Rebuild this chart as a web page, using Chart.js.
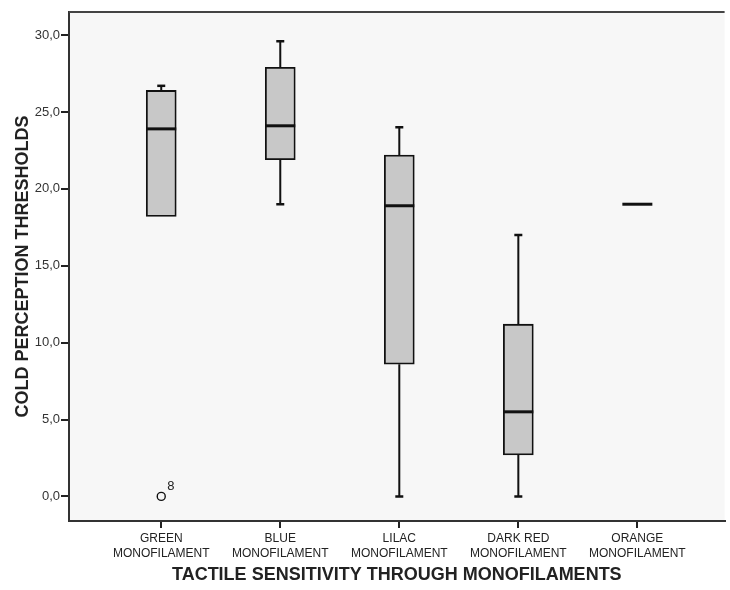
<!DOCTYPE html>
<html>
<head>
<meta charset="utf-8">
<script src="https://cdn.jsdelivr.net/npm/chart.js@4.4.1/dist/chart.umd.min.js"></script>
<style>
  html, body { margin: 0; padding: 0; background: #fff; }
  #wrap { width: 730px; height: 590px; }
</style>
</head>
<body>
<div id="wrap"><canvas id="chart"></canvas></div>
<script>
// categories and box plot values
const groups = [['GREEN', 'MONOFILAMENT'], ['BLUE', 'MONOFILAMENT'], ['LILAC', 'MONOFILAMENT'], ['DARK RED', 'MONOFILAMENT'], ['ORANGE', 'MONOFILAMENT']];
const groupPos = [1, 2, 3, 4, 5];
const whiskerLow = [18.2, 19.0, 0.0, 0.0, 19.0];
const q1 = [18.2, 21.9, 8.6, 2.7, 19.0];
const median = [23.9, 24.1, 18.9, 5.5, 19.0];
const q3 = [26.4, 27.9, 22.2, 11.2, 19.0];
const whiskerHigh = [26.7, 29.6, 24.0, 17.0, 19.0];
const outlierPos = [1];
const outlierVal = [0.0];
const outlierLabel = ['8'];
const yTicks = [0, 5, 10, 15, 20, 25, 30];

const font = "'Liberation Sans', Arial, sans-serif";

const boxData = groupPos.map((x, i) => q1[i] === q3[i] ? { x: x, y: null } : { x: x, y: [q1[i], q3[i]] });
const outData = outlierPos.map((x, i) => ({ x: x, y: outlierVal[i] }));

const boxPlot = {
  id: 'boxPlot',
  beforeDraw(chart) {
    const a = chart.chartArea, c = chart.ctx;
    c.save();
    c.fillStyle = '#f7f7f7';
    c.fillRect(a.left, a.top, a.right - a.left, a.bottom - a.top);
    c.restore();
  },
  afterDatasetsDraw(chart) {
    const c = chart.ctx, xs = chart.scales.x, ys = chart.scales.y;
    const half = 15, cap = 4;
    c.save();
    c.strokeStyle = '#111';
    groupPos.forEach((g, i) => {
      const x = xs.getPixelForValue(g);
      c.lineWidth = 2;
      c.beginPath();
      c.moveTo(x, ys.getPixelForValue(q3[i]));
      c.lineTo(x, ys.getPixelForValue(whiskerHigh[i]));
      c.moveTo(x, ys.getPixelForValue(q1[i]));
      c.lineTo(x, ys.getPixelForValue(whiskerLow[i]));
      c.stroke();
      c.lineWidth = 2.5;
      c.beginPath();
      if (whiskerHigh[i] > q3[i]) {
        c.moveTo(x - cap, ys.getPixelForValue(whiskerHigh[i]));
        c.lineTo(x + cap, ys.getPixelForValue(whiskerHigh[i]));
      }
      if (whiskerLow[i] < q1[i]) {
        c.moveTo(x - cap, ys.getPixelForValue(whiskerLow[i]));
        c.lineTo(x + cap, ys.getPixelForValue(whiskerLow[i]));
      }
      c.stroke();
      c.lineWidth = 3;
      c.beginPath();
      c.moveTo(x - half, ys.getPixelForValue(median[i]));
      c.lineTo(x + half, ys.getPixelForValue(median[i]));
      c.stroke();
    });
    c.fillStyle = '#222';
    c.font = '13px ' + font;
    outlierPos.forEach((g, i) => {
      c.fillText(outlierLabel[i], xs.getPixelForValue(g) + 6, ys.getPixelForValue(outlierVal[i]) - 6);
    });
    // top edge of the plot frame
    const a = chart.chartArea;
    c.strokeStyle = '#444';
    c.lineWidth = 2;
    c.beginPath();
    c.moveTo(a.left, a.top);
    c.lineTo(a.right, a.top);
    c.stroke();
    c.restore();
  }
};

new Chart(document.getElementById('chart'), {
  type: 'bar',
  data: {
    datasets: [{
      data: boxData,
      backgroundColor: '#c8c8c8',
      borderColor: '#111',
      borderWidth: 1.8,
      borderSkipped: false,
      barThickness: 30
    }, {
      type: 'scatter',
      data: outData,
      pointStyle: 'circle',
      pointRadius: 4,
      pointBackgroundColor: '#f7f7f7',
      pointBorderColor: '#111',
      pointBorderWidth: 1.4
    }]
  },
  options: {
    responsive: true,
    maintainAspectRatio: false,
    animation: false,
    layout: { padding: { top: 12, right: 0, left: 0, bottom: 0 } },
    plugins: { legend: { display: false }, tooltip: { enabled: false } },
    scales: {
      x: {
        type: 'linear',
        offset: false,
        min: 0.225,
        max: 5.733,
        afterBuildTicks: s => { s.ticks = groupPos.map(v => ({ value: v })); },
        afterFit: s => { s.height = 69; },
        ticks: {
          callback: (v) => groups[groupPos.indexOf(v)],
          color: '#222',
          font: { family: font, size: 12, lineHeight: 1.25 },
          padding: 3,
          maxRotation: 0,
          autoSkip: false
        },
        grid: { offset: false, drawOnChartArea: false, drawTicks: true, tickLength: 7, color: '#222', lineWidth: 2 },
        border: { display: true, color: '#333', width: 2 },
        title: {
          display: true,
          text: 'TACTILE SENSITIVITY THROUGH MONOFILAMENTS',
          color: '#222',
          font: { family: font, size: 18, weight: 'bold' },
          padding: { top: 0, bottom: 4 }
        }
      },
      y: {
        min: -1.6,
        max: 31.5,
        afterBuildTicks: s => { s.ticks = yTicks.map(v => ({ value: v })); },
        afterFit: s => { s.width = 69; },
        ticks: {
          callback: v => v.toFixed(1).replace('.', ','),
          color: '#333',
          font: { family: font, size: 13 },
          padding: 1
        },
        grid: { drawOnChartArea: false, drawTicks: true, tickLength: 8, color: '#222', lineWidth: 2 },
        border: { display: true, color: '#333', width: 2 },
        title: {
          display: true,
          text: 'COLD PERCEPTION THRESHOLDS',
          color: '#222',
          font: { family: font, size: 18, weight: 'bold' },
          padding: { top: 12, bottom: 0 }
        }
      }
    }
  },
  plugins: [boxPlot]
});
</script>
</body>
</html>
